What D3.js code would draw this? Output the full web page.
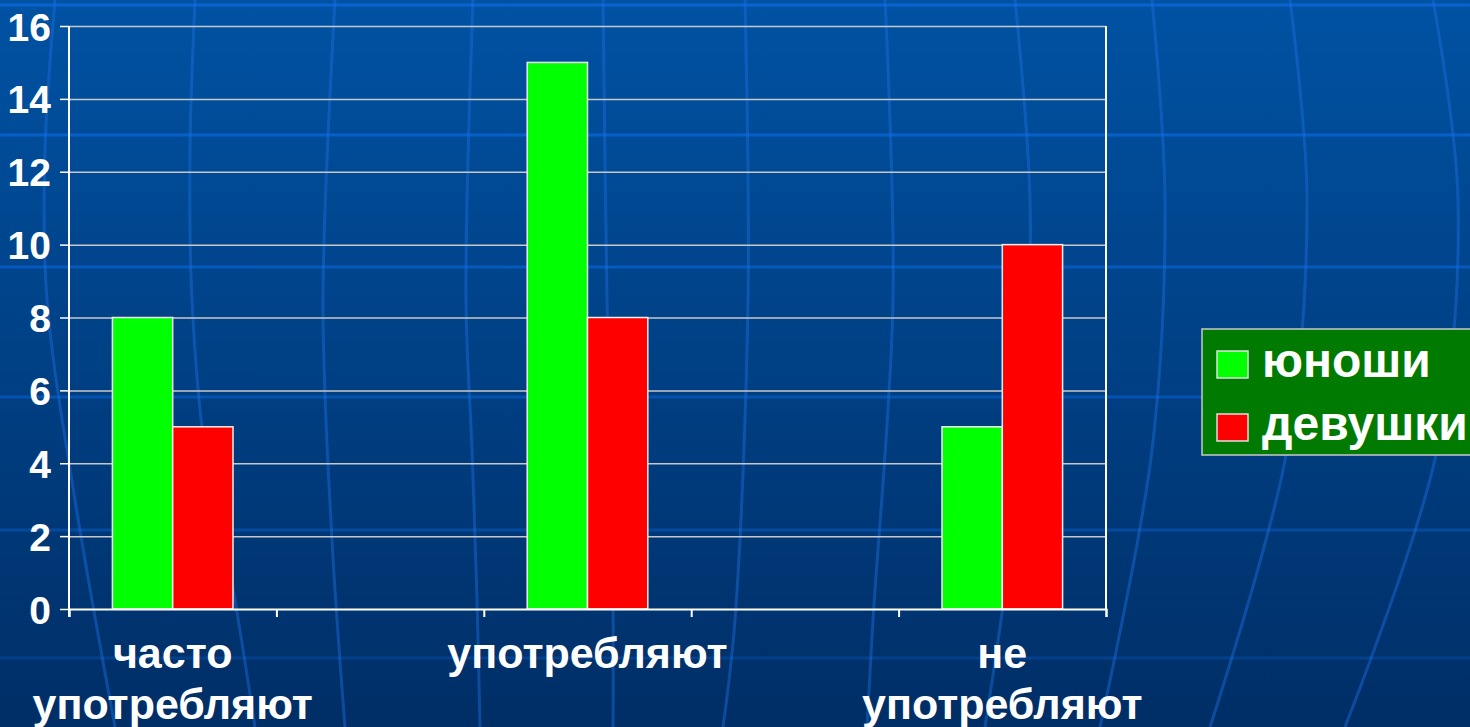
<!DOCTYPE html>
<html>
<head>
<meta charset="utf-8">
<script src="https://cdn.jsdelivr.net/npm/d3@7"></script>
<style>
  body { margin: 0; overflow: hidden; background: #003a7a; }
  svg text { font-family: "Liberation Sans", Arial, sans-serif; font-weight: bold; fill: #fff; }
</style>
</head>
<body>
<script>
// chart data (two empty slots between the groups, as in the original slide)
var categories = ["часто употребляют", "", "употребляют", "", "не употребляют"];
var series = ["юноши", "девушки"];
var boys = [8, null, 15, null, 5];
var girls = [5, null, 8, null, 10];
var seriesColors = ["#00ff00", "#ff0000"];
var yTicks = [0, 2, 4, 6, 8, 10, 12, 14, 16];

var svgWidth = 1470;
var svgHeight = 727;

// plot area
var plot = { left: 69, right: 1106, top: 26, bottom: 609 };

var svg = d3.select("body")
  .append("svg")
  .attr("width", svgWidth)
  .attr("height", svgHeight);

// ---- slide background ----
var grad = svg.append("defs").append("linearGradient")
  .attr("id", "bg").attr("x1", 0).attr("y1", 0).attr("x2", 0).attr("y2", 1);
grad.append("stop").attr("offset", "0%").attr("stop-color", "#0052a3");
grad.append("stop").attr("offset", "100%").attr("stop-color", "#002e66");

svg.append("rect")
  .attr("width", svgWidth)
  .attr("height", svgHeight)
  .attr("fill", "url(#bg)");

// decorative horizontal stripes
var stripeY = [5, 135, 267, 397, 530, 658];
svg.append("g").selectAll("line")
  .data(stripeY)
  .enter()
  .append("line")
  .attr("x1", 0).attr("x2", svgWidth)
  .attr("y1", d => d).attr("y2", d => d)
  .attr("stroke", "#0a66d8")
  .attr("stroke-width", 3)
  .attr("opacity", (d, i) => 0.9 - i * 0.12);

// decorative meridian curves
var meridians = [
  [[55, 0], [45, 150], [47, 300], [75, 500], [115, 727]],
  [[195, 0], [190, 150], [192, 300], [205, 450], [228, 560], [255, 727]],
  [[335, 0], [323, 300], [332, 540], [345, 727]],
  [[473, 0], [466, 300], [472, 450], [477, 600], [480, 727]],
  [[603, 0], [607, 300], [613, 600], [613, 727]],
  [[745, 0], [748, 300], [735, 620], [723, 727]],
  [[885, 0], [893, 300], [873, 620], [867, 727]],
  [[1015, 0], [1030, 200], [1022, 450], [985, 727]],
  [[1152, 0], [1165, 200], [1152, 450], [1100, 727]],
  [[1290, 0], [1307, 200], [1287, 450], [1210, 727]],
  [[1433, 0], [1458, 200], [1437, 450], [1345, 727]]
];
var curve = d3.line().curve(d3.curveCatmullRom);
svg.append("g").selectAll("path")
  .data(meridians)
  .enter()
  .append("path")
  .attr("d", curve)
  .attr("fill", "none")
  .attr("stroke", "#1a6ee0")
  .attr("stroke-width", 3)
  .attr("opacity", 0.45);

// ---- scales ----
var x = d3.scaleBand()
  .domain(d3.range(categories.length))
  .range([plot.left, plot.right]);

var x1 = d3.scaleBand()
  .domain(series)
  .range([0, x.bandwidth()])
  .paddingOuter(0.72);

var y = d3.scaleLinear()
  .domain([0, 16])
  .range([plot.bottom, plot.top]);

// gridlines
svg.append("g")
  .attr("transform", `translate(${plot.left}, 0)`)
  .call(d3.axisLeft(y).tickValues(yTicks.slice(1)).tickSize(-(plot.right - plot.left)).tickFormat(""))
  .call(g => g.select(".domain").remove())
  .call(g => g.selectAll("line").attr("stroke", "#c8c8c8").attr("stroke-width", 1.5));

// right border of plot area
svg.append("line")
  .attr("x1", plot.right).attr("x2", plot.right)
  .attr("y1", plot.top).attr("y2", plot.bottom)
  .attr("stroke", "#fff").attr("stroke-width", 2);

// bars
var values = [boys, girls];
series.forEach(function (s, si) {
  svg.append("g").selectAll("rect")
    .data(values[si].map((v, i) => ({ i: i, v: v })).filter(d => d.v != null))
    .enter()
    .append("rect")
    .attr("x", d => x(d.i) + x1(s))
    .attr("y", d => y(d.v))
    .attr("width", x1.bandwidth())
    .attr("height", d => y(0) - y(d.v))
    .attr("fill", seriesColors[si])
    .attr("stroke", "#f0f0f0")
    .attr("stroke-width", 1.5);
});

// y axis
svg.append("g")
  .attr("transform", `translate(${plot.left}, 0)`)
  .call(d3.axisLeft(y).tickValues(yTicks).tickSize(9).tickPadding(9))
  .call(g => g.select(".domain").remove())
  .call(g => g.selectAll("line").attr("stroke", "#fff").attr("stroke-width", 1.5))
  .call(g => g.selectAll("text").style("font-size", "39px").attr("dy", "0.36em"));

// x axis: ticks on the slot boundaries
var xEdge = d3.scaleLinear().domain([0, categories.length]).range([plot.left, plot.right]);
svg.append("g")
  .attr("transform", `translate(0, ${plot.bottom})`)
  .call(d3.axisBottom(xEdge).ticks(categories.length).tickSize(8).tickFormat(""))
  .call(g => g.select(".domain").attr("stroke", "#fff").attr("stroke-width", 2))
  .call(g => g.selectAll("line").attr("stroke", "#fff").attr("stroke-width", 2));

// left axis line
svg.append("line")
  .attr("x1", plot.left).attr("x2", plot.left)
  .attr("y1", plot.top).attr("y2", plot.bottom + 8)
  .attr("stroke", "#fff").attr("stroke-width", 2);

// category labels
var labels = svg.append("g").selectAll("text")
  .data(categories.map((c, i) => ({ c: c, i: i })).filter(d => d.c !== ""))
  .enter()
  .append("text")
  .attr("text-anchor", "middle")
  .style("font-size", "43px");

labels.selectAll("tspan")
  .data(d => d.c.split(" ").map(w => ({ w: w, i: d.i })))
  .enter()
  .append("tspan")
  .attr("x", d => x(d.i) + x.bandwidth() / 2)
  .attr("y", (d, j) => 668 + j * 51)
  .text(d => d.w);

// legend
var legend = svg.append("g").attr("transform", "translate(1202, 329)");
legend.append("rect")
  .attr("width", 300).attr("height", 126)
  .attr("fill", "#007a00")
  .attr("stroke", "#c8c8c8").attr("stroke-width", 1.5);

var item = legend.selectAll(".item")
  .data(series)
  .enter()
  .append("g")
  .attr("transform", (d, i) => `translate(15, ${22 + i * 63})`);

item.append("rect")
  .attr("width", 31).attr("height", 27)
  .attr("fill", (d, i) => seriesColors[i])
  .attr("stroke", "#e0e0e0").attr("stroke-width", 1.5);

item.append("text")
  .attr("x", 45)
  .attr("y", 26)
  .style("font-size", "48px")
  .text(d => d);
</script>
</body>
</html>
